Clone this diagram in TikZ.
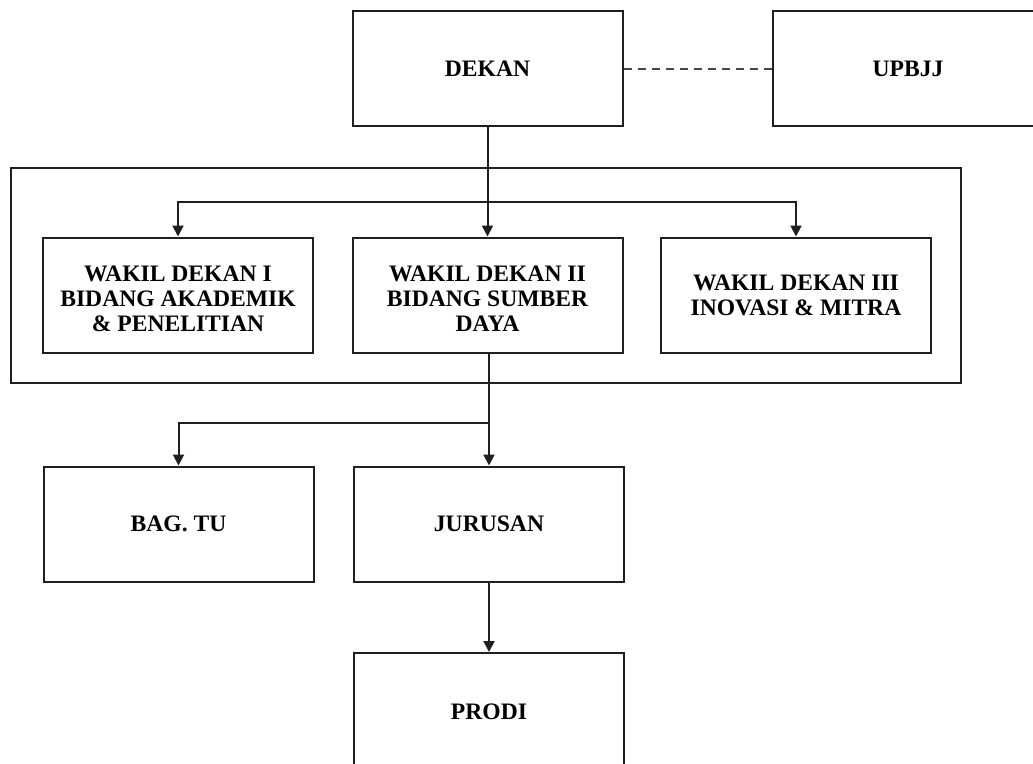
\documentclass[tikz,border=0pt]{standalone}
\usepackage{fontspec}
\setmainfont{Liberation Serif}
\usetikzlibrary{arrows.meta}
\newcommand{\lowered}[1]{\raisebox{-6pt}[\height][\depth]{\begin{tabular}{@{}c@{}}#1\end{tabular}}}
\begin{document}
\begin{tikzpicture}[x=1pt,y=-1pt,
  box/.style={draw=black!88,line width=2pt,rectangle,minimum width=270pt,minimum height=115pt,
    inner sep=0pt,align=center,font=\bfseries\fontsize{23.6}{25}\selectfont},
  conn/.style={draw=black!88,line width=2pt},
  arr/.style={conn,-{Triangle[length=11pt,width=11pt]}},
  dashline/.style={draw=black!72,line width=2pt,dash pattern=on 8pt off 6pt}]
\useasboundingbox (0,0) rectangle (1033,763);
\clip (0,0) rectangle (1033,763);
\node[box] (dekan) at (487.5,68.5) {DEKAN};
\node[box] (upbjj) at (908,68.5) {UPBJJ};
\node[draw=black!88,line width=2pt,rectangle,minimum width=950pt,minimum height=215pt,inner sep=0pt] (grp) at (486,275.5) {};
\node[box] (w1) at (178,295) {\lowered{WAKIL DEKAN I\\BIDANG AKADEMIK\\\& PENELITIAN}};
\node[box] (w2) at (487.5,295) {\lowered{WAKIL DEKAN II\\BIDANG SUMBER\\DAYA}};
\node[box] (w3) at (796,295) {WAKIL DEKAN III\\INOVASI \& MITRA};
\node[box] (tu) at (178.5,524) {BAG. TU};
\node[box] (jur) at (489,524) {JURUSAN};
\node[box,minimum height=118pt] (prodi) at (489,712) {PRODI};
\coordinate (b1) at (487.5,202);
\coordinate (b2) at (489,423);
\draw[dashline] (dekan.east) -- (upbjj.west);
\draw[arr] (dekan.south) -- (w2.north);
\draw[arr] (b1) -| (w1.north);
\draw[arr] (b1) -| (w3.north);
\draw[conn] (w2.south -| b2) -- (b2);
\draw[arr] (b2) -- (jur.north);
\draw[arr] (b2) -| (tu.north);
\draw[arr] (jur.south) -- (prodi.north);
\end{tikzpicture}
\end{document}
